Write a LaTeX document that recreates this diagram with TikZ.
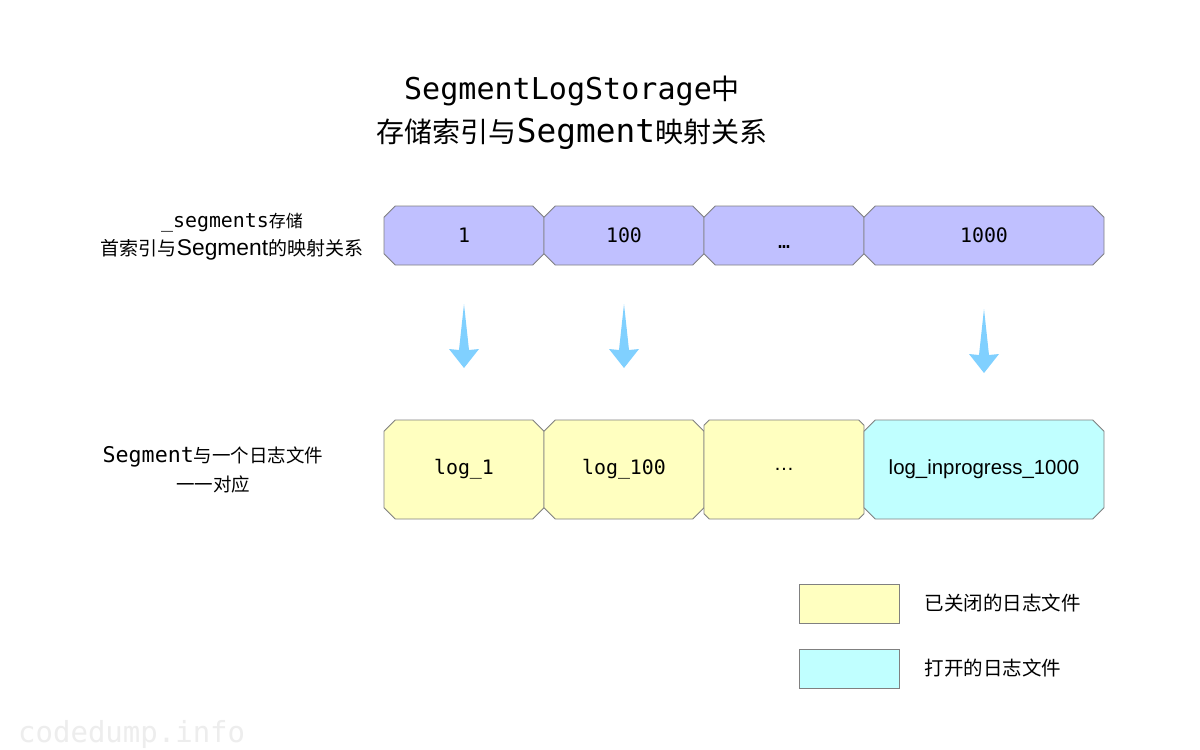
\documentclass[tikz,border=0pt]{standalone}
\usepackage{fontspec}
\setmainfont{Liberation Sans}[Scale=1.2]
\newfontfamily\cjk{Noto Sans CJK SC}
\newfontfamily\mono[Scale=1.17]{DejaVu Sans Mono}
\newfontfamily\wmfont{DejaVu Sans Mono}
\newcommand\zh[1]{{\cjk #1}}
\usetikzlibrary{shapes.misc,calc}
\definecolor{idxfill}{RGB}{192,192,255}
\definecolor{closedfill}{RGB}{255,255,192}
\definecolor{openfill}{RGB}{192,255,255}
\definecolor{edgegray}{RGB}{128,128,128}
\definecolor{arrowblue}{RGB}{128,208,255}
\tikzset{
  cham/.style={chamfered rectangle, chamfered rectangle xsep=7pt,
    draw=edgegray, line width=0.9pt, inner sep=0pt, outer sep=0pt,
    font=\fontsize{17}{20}\selectfont},
  idx/.style={cham, fill=idxfill, minimum height=59pt},
  closedlog/.style={cham, fill=closedfill, minimum height=99pt},
  openlog/.style={cham, fill=openfill, minimum height=99pt},
  legbox/.style={rectangle, draw=edgegray, line width=0.9pt, minimum width=100pt,
    minimum height=39pt, inner sep=0pt},
  lbl/.style={align=center, inner sep=0pt},
  downarrow/.style={fill=arrowblue}
}
\begin{document}
\begin{tikzpicture}[x=1pt,y=-1pt]
\useasboundingbox[fill=white] (0,0) rectangle (1200,750);

% title
\node[lbl, font=\fontsize{28}{43}\selectfont] (title) at (572,112.5)
  {{\fontsize{25.7}{43}\selectfont\mono SegmentLogStorage}\zh{中}\\ \zh{存储索引与}{\mono Segment}\zh{映射关系}};

% left labels
\node[lbl, font=\fontsize{17}{28}\selectfont] (lab1) at (232,237)
  {{\mono \_segments}\zh{存储}\\ {\fontsize{19}{28}\selectfont\zh{首索引与}Segment\zh{的映射关系}}};
\node[lbl, font=\fontsize{18.5}{29}\selectfont] (lab2) at (213,469.5)
  {{\mono Segment}\zh{与一个日志文件}\\ \zh{一一对应}};

% index row
\node[idx, minimum width=160pt] (i1) at (464,235.5) {\mono 1};
\node[idx, minimum width=160pt] (i2) at (624,235.5) {\mono 100};
\node[idx, minimum width=160pt] (i3) at (784,235.5) {\mono\vphantom{1}\raisebox{-0.28em}[0pt][0pt]{…}};
\node[idx, minimum width=240pt] (i4) at (984,235.5) {\mono 1000};

% log row
\node[closedlog, minimum width=160pt] (g1) at (464,469.5) {\mono log\_1};
\node[closedlog, minimum width=160pt] (g2) at (624,469.5) {\mono log\_100};
\node[closedlog, minimum width=160pt] (g3) at (784,469.5) {…};
\node[openlog, minimum width=240pt] (g4) at (984,469.5) {log\_inprogress\_1000};

% arrows
\coordinate (a1) at ($(i1.south)+(0,39)$);
\coordinate (a2) at ($(i2.south)+(0,39)$);
\coordinate (a4) at ($(i4.south)+(0,44)$);
\foreach \a in {a1,a2,a4}{
  \fill[downarrow, shift={(\a)}] (0,0) -- (5,46) -- (15,45) -- (0,64)
     -- (-15,45) -- (-5,46) -- cycle;
}

% legend
\node[legbox, fill=closedfill] (k1) at (849,603.5) {};
\node[legbox, fill=openfill] (k2) at (849,668.5) {};
\node[anchor=west, inner sep=0pt, font=\fontsize{19.5}{22}\selectfont] (kt1)
  at ($(k1.east)+(25,0)$) {\zh{已关闭的日志文件}};
\node[anchor=west, inner sep=0pt, font=\fontsize{19.5}{22}\selectfont] (kt2)
  at ($(k2.east)+(25,0)$) {\zh{打开的日志文件}};

% watermark
\node[anchor=base west, inner sep=0pt, text=black!7,
  font=\wmfont\fontsize{29}{30}\selectfont] (wm) at (18,742) {codedump.info};
\end{tikzpicture}
\end{document}
